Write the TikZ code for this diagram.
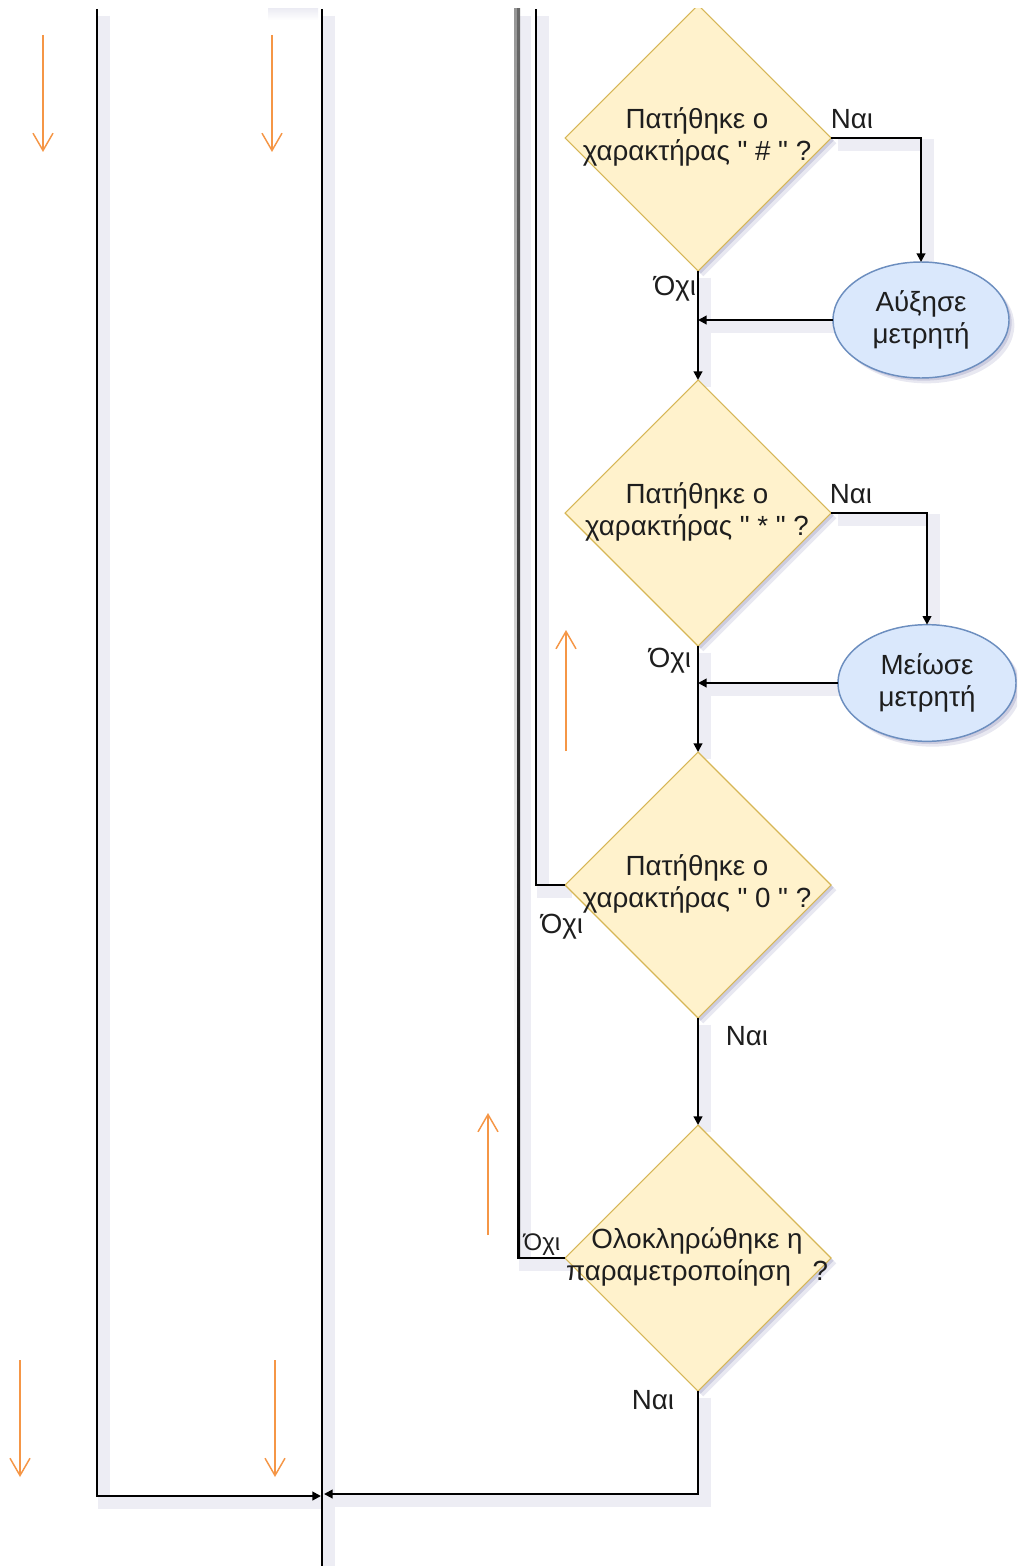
\documentclass[tikz,border=0pt]{standalone}
\usepackage{fontspec}
\setmainfont{Liberation Sans}[Ligatures=TeXOff]
\usetikzlibrary{shapes.geometric,arrows.meta,shadows}
\pgfdeclarelayer{bg}
\pgfsetlayers{bg,main}

\definecolor{decfill}{RGB}{255,242,204}
\definecolor{decdraw}{RGB}{214,182,86}
\definecolor{actfill}{RGB}{218,232,252}
\definecolor{actdraw}{RGB}{108,142,191}
\definecolor{hintc}{RGB}{245,150,70}
\definecolor{shc}{RGB}{150,150,190}
\definecolor{lshc}{RGB}{237,237,244}
\definecolor{txtc}{RGB}{30,30,30}

\tikzset{
  every node/.style={font=\fontsize{20.8pt}{24.5pt}\selectfont, text=txtc},
  softshadow/.style={
    general shadow={shadow xshift=2pt, shadow yshift=-2pt, fill=shc, opacity=.35},
    general shadow={shadow xshift=4pt, shadow yshift=-4pt, fill=shc, opacity=.22}},
  decision/.style={diamond, aspect=1, draw=decdraw, line width=0.8pt, fill=decfill,
    minimum width=199.5pt, minimum height=199.5pt, inner sep=0pt, outer sep=0pt, softshadow},
  action/.style={ellipse, draw=actdraw, line width=1.1pt, fill=actfill,
    inner sep=0pt, outer sep=0pt, align=center, softshadow},
  qtext/.style={align=center, inner sep=0pt},
  tag/.style={inner sep=0pt},
  conn/.style={draw=black, line width=1.5pt},
  lineshadow/.style={draw=lshc, line width=9pt},
  hint/.style={draw=hintc, line width=1.1pt, -{Straight Barb[length=13pt,width=15pt]}},
}

% every connector of the flow, drawn with whatever "link"/"tipped" mean at the call
\newcommand\flowlinks{%
  \draw[link,tipped] (d1.east) -| (e1.north);
  \draw[link,tipped] (e1.west) -- (d1.south |- e1.west);
  \draw[link,tipped] (d1.south) -- (d2.north);
  \draw[link,tipped] (d2.east) -| (e2.north);
  \draw[link,tipped] (e2.west) -- (d2.south |- e2.west);
  \draw[link,tipped] (d2.south) -- (d3.north);
  \draw[link,tipped] (d3.south) -- (d4.north);
  \draw[link] (d3.west) -| (up3);
  \draw[link] (d4.west) -| (up4);
  \draw[link,tipped] (d4.south) |- (mrgR);
  \draw[link,tipped] (ltop) |- (mrgL);
  \draw[link] (mtop) -- (mbot);
}

\begin{document}
\begin{tikzpicture}[x=0.75pt, y=-0.75pt]
\useasboundingbox (0,0) rectangle (1017,1566);

% free ends of the long connectors
\coordinate (up3)  at (536,9);
\coordinate (up4)  at (518.5,9);
\coordinate (ltop) at (97,9);
\coordinate (mtop) at (322,9);
\coordinate (mbot) at (322,1566);
\coordinate (mrgL) at (321,1496);
\coordinate (mrgR) at (324,1494);

\begin{scope}
\clip (0,9) rectangle (1017,1566);

% decisions
\node[decision] (d1) at (698,138) {};
\node[decision] (d2) at (698,513) {};
\node[decision] (d3) at (698,885) {};
\node[decision] (d4) at (698,1258) {};

\node[qtext] (t1) at (697,137)  {Πατήθηκε ο\\χαρακτήρας " \# " ?};
\node[qtext] (t2) at (697,512)  {Πατήθηκε ο\\χαρακτήρας " * " ?};
\node[qtext] (t3) at (697,884)  {Πατήθηκε ο\\χαρακτήρας " 0 " ?};
\node[qtext] (t4) at (697,1257) {Ολοκληρώθηκε η\\παραμετροποίηση\hspace{0.5em} ?};

% counter actions
\node[action, minimum width=132pt, minimum height=87pt] (e1) at (921,320) {Αύξησε\\μετρητή};
\node[action, minimum width=133.5pt, minimum height=87.5pt] (e2) at (927,683) {Μείωσε\\μετρητή};

% soft shadows under the connectors
\begin{pgfonlayer}{bg}
  \begin{scope}[transform canvas={shift={(5pt,-5pt)}},
                link/.style={lineshadow}, tipped/.style={}]
    \flowlinks
  \end{scope}
  \shade[top color=lshc, bottom color=white] (268,9) rectangle (318,20);
\end{pgfonlayer}

% connectors
\begin{scope}[link/.style={conn}, tipped/.style={-{Triangle[length=6.5pt,width=6.5pt]}}]
  \flowlinks
\end{scope}

% grey tint on the return line
\shade[top color={rgb,255:red,150;green,150;blue,150}, bottom color=white] (514,9) rectangle (517,1100);
\shade[top color={rgb,255:red,105;green,105;blue,105}, bottom color=black] (517,9) rectangle (520,1258);

% branch labels
\node[tag] (y1) at (852,119)  {Ναι};
\node[tag] (n1) at (675,289)  {Όχι};
\node[tag] (y2) at (851,494)  {Ναι};
\node[tag] (n2) at (670,661)  {Όχι};
\node[tag] (n3) at (562,927)  {Όχι};
\node[tag] (y3) at (747,1036) {Ναι};
\node[tag, font=\fontsize{18pt}{22pt}\selectfont] (n4) at (542,1245) {Όχι};
\node[tag] (y4) at (653,1400) {Ναι};

% direction hints
\coordinate (h1a) at (43,35);    \coordinate (h1b) at (43,152);
\coordinate (h2a) at (272,35);   \coordinate (h2b) at (272,152);
\coordinate (h3a) at (566,751);  \coordinate (h3b) at (566,630);
\coordinate (h4a) at (488,1235); \coordinate (h4b) at (488,1113);
\coordinate (h5a) at (20,1360);  \coordinate (h5b) at (20,1477);
\coordinate (h6a) at (275,1360); \coordinate (h6b) at (275,1477);
\draw[hint] (h1a) -- (h1b);
\draw[hint] (h2a) -- (h2b);
\draw[hint] (h3a) -- (h3b);
\draw[hint] (h4a) -- (h4b);
\draw[hint] (h5a) -- (h5b);
\draw[hint] (h6a) -- (h6b);
\end{scope}
\end{tikzpicture}
\end{document}
